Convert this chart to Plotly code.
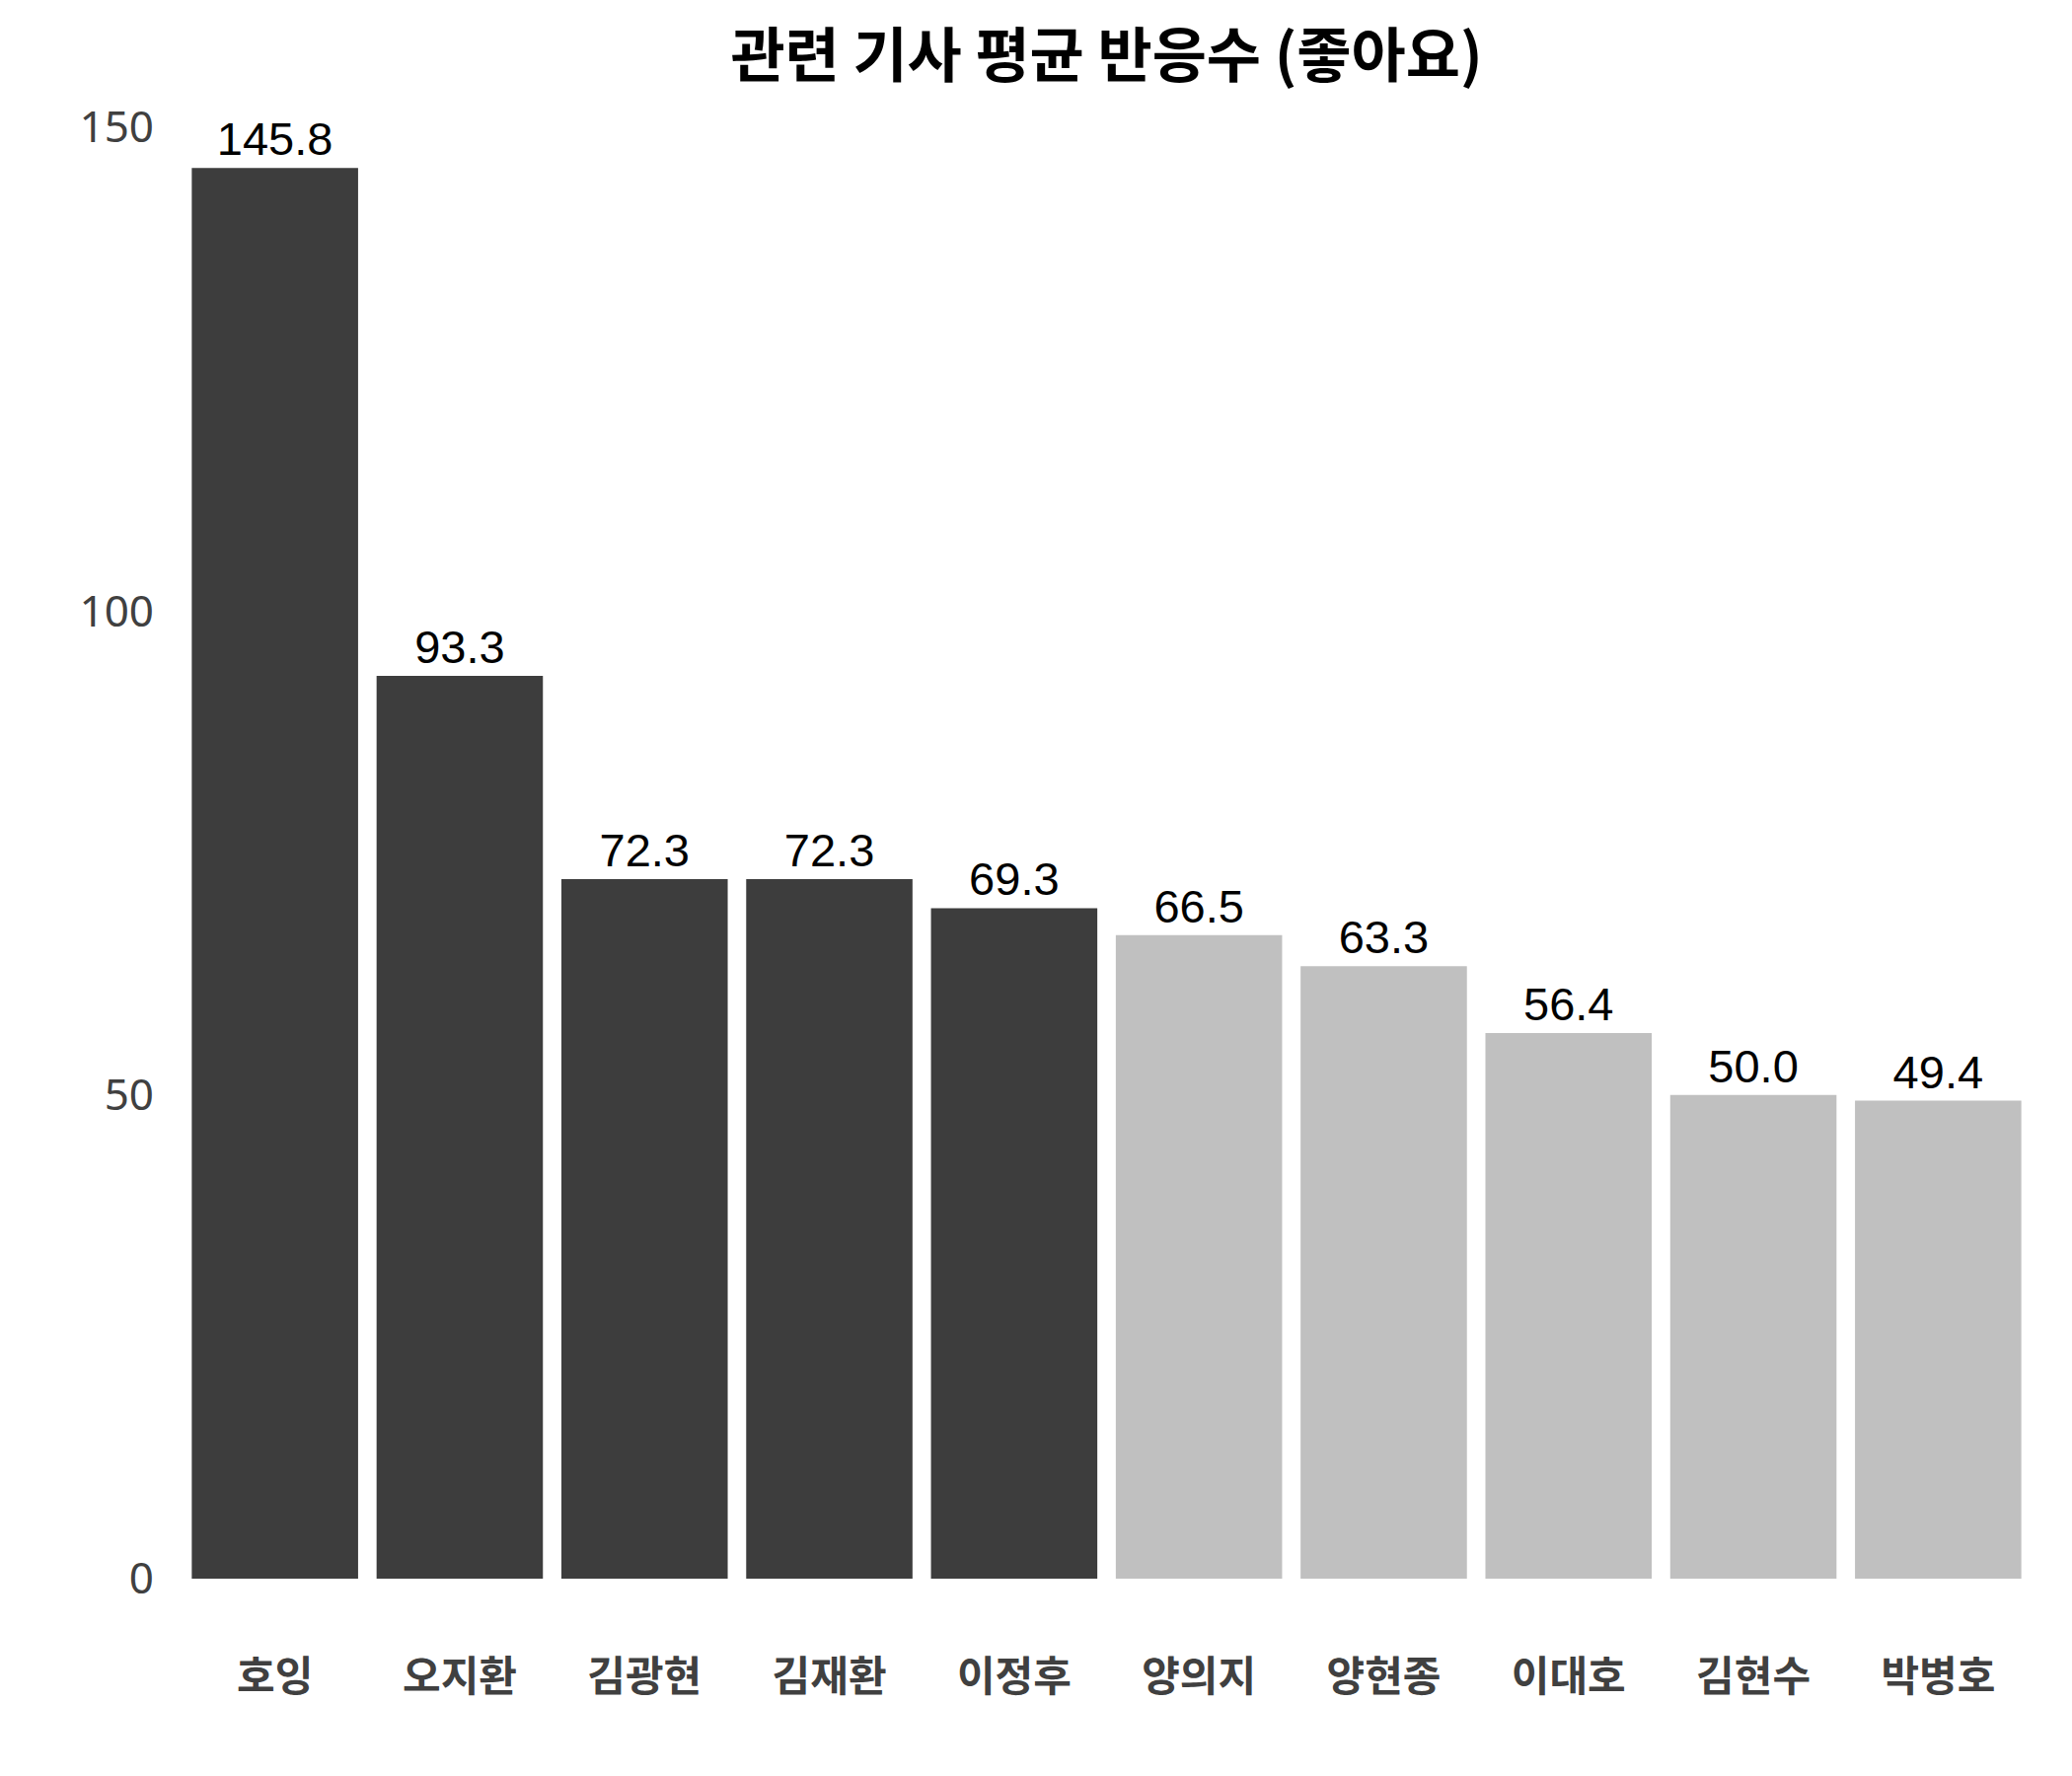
import plotly.graph_objects as go

players = ['호잉', '오지환', '김광현', '김재환', '이정후', '양의지', '양현종', '이대호', '김현수', '박병호']
avg_likes = [145.8, 93.3, 72.3, 72.3, 69.3, 66.5, 63.3, 56.4, 50.0, 49.4]
top_players = ['호잉', '오지환', '김광현', '김재환', '이정후']
y_ticks = [0, 50, 100, 150]

DARK = '#3d3d3d'
LIGHT = '#c0c0c0'
colors = [DARK if p in top_players else LIGHT for p in players]

fig = go.Figure(go.Bar(
    x=players, y=avg_likes,
    marker=dict(color=colors, line=dict(width=0)),
    text=avg_likes, texttemplate='%{y:.1f}', textposition='outside',
    textfont=dict(family='Liberation Sans, Arial', size=47, color='black'),
    cliponaxis=False,
))

fig.update_layout(
    width=2100, height=1800,
    plot_bgcolor='white', paper_bgcolor='white',
    margin=dict(l=177, r=50, t=121, b=208),
    bargap=0.1,
    showlegend=False,
    title=dict(text='<b>관련 기사 평균 반응수 (좋아요)</b>',
               font=dict(family='Noto Sans CJK KR', size=60, color='black'),
               x=0.5, xref='paper', xanchor='center', y=0.973, yanchor='middle'),
)
fig.update_xaxes(showgrid=False, showline=False, zeroline=False,
                 tickfont=dict(family='Noto Sans CJK KR', size=42, color='#404040',
                               weight=600),
                 ticklabelstandoff=71)
fig.update_yaxes(range=[0, 150], tickvals=y_ticks, showgrid=False, showline=False,
                 zeroline=False,
                 tickfont=dict(family='Noto Sans', size=44, color='#404040'),
                 ticklabelstandoff=28)

fig.write_html('out.html')
